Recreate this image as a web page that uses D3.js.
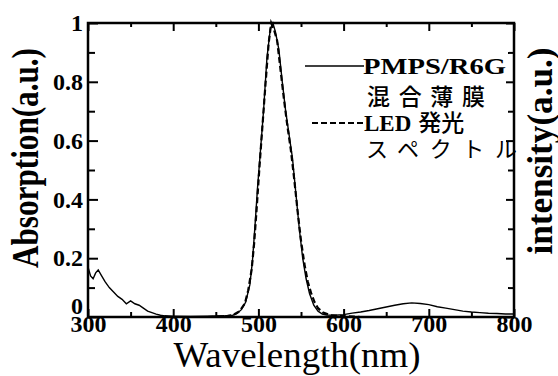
<!DOCTYPE html>
<html>
<head>
<meta charset="utf-8">
<script src="https://cdn.jsdelivr.net/npm/d3@7"></script>
<style>
  body { margin: 0; background: #fff; }
  .tick text { font-family: "Liberation Serif", serif; font-weight: bold; fill: #000; }
</style>
</head>
<body>
<div id="content"></div>
<script>
// absorption of the PMPS/R6G film (solid line)
const absWave = [300, 303, 306, 309, 312, 316, 320, 325, 330, 335, 340, 345, 350, 355, 360, 365, 370, 375, 380, 385, 390, 400, 420, 440, 460, 470, 475, 480, 485, 490, 493, 496, 499, 502, 506, 510, 514, 517, 520, 524, 528, 532, 536, 540, 544, 548, 552, 556, 560, 565, 570, 575, 580, 590, 600, 610, 620, 630, 640, 650, 660, 670, 680, 690, 700, 710, 720, 730, 740, 750, 760, 770, 780, 790, 800];
const absValue = [0.17, 0.14, 0.13, 0.15, 0.16, 0.14, 0.12, 0.10, 0.085, 0.07, 0.06, 0.045, 0.055, 0.045, 0.04, 0.03, 0.02, 0.015, 0.01, 0.006, 0.004, 0.003, 0.002, 0.003, 0.004, 0.006, 0.012, 0.025, 0.05, 0.11, 0.19, 0.31, 0.44, 0.55, 0.70, 0.88, 0.98, 1.0, 0.97, 0.91, 0.80, 0.70, 0.62, 0.54, 0.42, 0.30, 0.20, 0.13, 0.08, 0.04, 0.02, 0.01, 0.007, 0.006, 0.008, 0.013, 0.017, 0.022, 0.028, 0.034, 0.04, 0.045, 0.048, 0.046, 0.042, 0.035, 0.03, 0.025, 0.02, 0.017, 0.015, 0.013, 0.012, 0.01, 0.01];

// LED emission spectrum (dashed line)
const ledWave = [440, 460, 470, 478, 484, 488, 492, 495, 498, 501, 504, 508, 512, 515, 518, 522, 526, 530, 534, 538, 542, 546, 550, 554, 558, 562, 566, 570, 576, 585, 600, 620];
const ledValue = [0.0, 0.002, 0.006, 0.02, 0.045, 0.09, 0.16, 0.25, 0.37, 0.50, 0.62, 0.78, 0.93, 1.0, 0.98, 0.94, 0.84, 0.74, 0.65, 0.57, 0.47, 0.36, 0.26, 0.18, 0.12, 0.08, 0.05, 0.03, 0.015, 0.006, 0.003, 0.0];

const xTicks = [300, 400, 500, 600, 700, 800];
const xMinor = [350, 450, 550, 650, 750];
const yTicks = [0, 0.2, 0.4, 0.6, 0.8, 1];
const yMinor = [0.1, 0.3, 0.5, 0.7, 0.9];
const yTickLabels = ["0", "0.2", "0.4", "0.6", "0.8", "1"];

const svg = d3.select("#content").append("svg")
  .attr("width", 558).attr("height", 376);

const x = d3.scaleLinear().domain([300, 800]).range([88, 514]);
const y = d3.scaleLinear().domain([0, 1]).range([317, 23]);

const serif = '"Liberation Serif", "Times New Roman", serif';
const cjk = '"Noto Sans CJK JP", sans-serif';

// axes, ticks pointing inward
function addAxis(axis, tf, hideLabels) {
  const g = svg.append("g").attr("transform", tf).call(axis);
  g.select(".domain").remove();
  g.selectAll(".tick line").attr("stroke", "#000").attr("stroke-width", 2);
  if (hideLabels) g.selectAll(".tick text").remove();
  return g;
}

const bx = addAxis(d3.axisBottom(x).tickValues(xTicks).tickSize(-8).tickPadding(1).tickFormat(d3.format("d")),
  "translate(0,317)", false);
bx.selectAll(".tick text").attr("font-size", 24).attr("dy", "0.6em");
addAxis(d3.axisBottom(x).tickValues(xMinor).tickSize(-5), "translate(0,317)", true);
addAxis(d3.axisTop(x).tickValues(xTicks).tickSize(-8), "translate(0,23)", true);
addAxis(d3.axisTop(x).tickValues(xMinor).tickSize(-4), "translate(0,23)", true);

const ly = addAxis(d3.axisLeft(y).tickValues(yTicks).tickSize(-10).tickPadding(5)
  .tickFormat((d, i) => yTickLabels[i]), "translate(88,0)", false);
ly.selectAll(".tick text").attr("font-size", 24)
  .attr("dy", d => d === 0 ? "-0.15em" : "0.32em");
addAxis(d3.axisLeft(y).tickValues(yMinor).tickSize(-7), "translate(88,0)", true);
addAxis(d3.axisRight(y).tickValues(yTicks).tickSize(-8), "translate(514,0)", true);
addAxis(d3.axisRight(y).tickValues(yMinor).tickSize(-6), "translate(514,0)", true);

// frame
svg.append("rect")
  .attr("x", 88).attr("y", 23).attr("width", 426).attr("height", 294)
  .attr("fill", "none").attr("stroke", "#000").attr("stroke-width", 2.5);

const line = d3.line().x(d => x(d[0])).y(d => y(d[1]));

svg.append("path")
  .datum(d3.zip(absWave, absValue))
  .attr("fill", "none").attr("stroke", "#000").attr("stroke-width", 1.4)
  .attr("d", line);

svg.append("path")
  .datum(d3.zip(ledWave, ledValue))
  .attr("fill", "none").attr("stroke", "#000").attr("stroke-width", 2.2)
  .attr("stroke-dasharray", "6,3")
  .attr("d", line);

// legend
svg.append("line").attr("x1", 305).attr("x2", 364).attr("y1", 66).attr("y2", 66)
  .attr("stroke", "#000").attr("stroke-width", 1.4);
svg.append("line").attr("x1", 312).attr("x2", 364).attr("y1", 123).attr("y2", 123)
  .attr("stroke", "#000").attr("stroke-width", 2.2).attr("stroke-dasharray", "6,3");

svg.append("text").attr("x", 363).attr("y", 74)
  .attr("font-family", serif).attr("font-size", 23).attr("font-weight", 600)
  .attr("textLength", 143).attr("lengthAdjust", "spacingAndGlyphs")
  .text("PMPS/R6G");
svg.append("text").attr("x", 367).attr("y", 105)
  .attr("font-family", cjk).attr("font-size", 23).attr("font-weight", 500)
  .attr("textLength", 118).attr("lengthAdjust", "spacing")
  .text("混合薄膜");
svg.append("text").attr("x", 364).attr("y", 131)
  .attr("font-family", serif).attr("font-size", 23).attr("font-weight", 600)
  .text("LED")
  .append("tspan").attr("dx", 7)
  .attr("font-family", cjk).attr("font-size", 23).attr("font-weight", 500)
  .text("発光");
svg.append("text").attr("x", 366).attr("y", 157)
  .attr("font-family", cjk).attr("font-size", 22)
  .attr("textLength", 151).attr("lengthAdjust", "spacing")
  .text("スペクトル");

// axis titles
svg.append("text")
  .attr("text-anchor", "middle")
  .attr("transform", "translate(297,367)")
  .attr("font-family", serif).attr("font-size", 36)
  .attr("textLength", 247).attr("lengthAdjust", "spacingAndGlyphs")
  .text("Wavelength(nm)");

svg.append("text")
  .attr("text-anchor", "middle")
  .attr("transform", "translate(38,158) rotate(-90)")
  .attr("font-family", serif).attr("font-size", 38).attr("font-weight", "bold")
  .attr("textLength", 220).attr("lengthAdjust", "spacingAndGlyphs")
  .text("Absorption(a.u.)");

svg.append("text")
  .attr("text-anchor", "middle")
  .attr("transform", "translate(552,151) rotate(-90)")
  .attr("font-family", serif).attr("font-size", 36).attr("font-weight", "bold")
  .attr("textLength", 207).attr("lengthAdjust", "spacingAndGlyphs")
  .text("intensity(a.u.)");
</script>
</body>
</html>
